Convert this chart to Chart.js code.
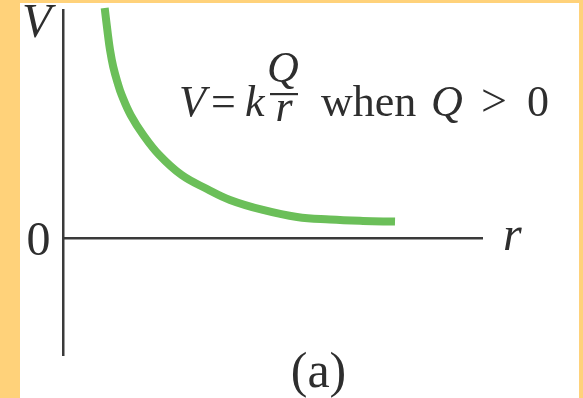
<!DOCTYPE html>
<html>
<head>
<meta charset="utf-8">
<script src="https://cdn.jsdelivr.net/npm/chart.js@4"></script>
<style>
  html, body { margin: 0; padding: 0; }
  body { width: 583px; height: 398px; background: #FFD27A; position: relative; overflow: hidden; }
  #paper { position: absolute; left: 20px; top: 3px; width: 559px; height: 395px; background: #ffffff; }
  #c { position: absolute; left: 0; top: 0; }
</style>
</head>
<body>
<div id="paper"></div>
<canvas id="c" width="583" height="398"></canvas>
<script>
// Values (r and V in arbitrary units)
const rValues = [0.995, 1.067, 1.122, 1.200, 1.305, 1.401, 1.616, 1.916, 2.298, 2.833, 3.437, 3.986, 4.773, 5.585, 6.372, 7.160, 7.924];
const vValues = [10.09, 8.99, 8.25, 7.50, 6.80, 6.27, 5.39, 4.52, 3.64, 2.76, 2.15, 1.67, 1.23, 0.92, 0.81, 0.75, 0.72];
const xRange = [0, 10];
const yRange = [-5.13, 10];
const axisLabels = { x: 'r', y: 'V', origin: '0' };
const caption = '(a)';

const INK = '#2e2e2e';
const SERIF = '"Liberation Serif", "Times New Roman", serif';

const textPlugin = {
  id: 'figureText',
  afterDraw(chart) {
    const ctx = chart.ctx;
    const xs = chart.scales.x, ys = chart.scales.y;
    const y0 = ys.getPixelForValue(0);
    ctx.save();
    ctx.fillStyle = INK;
    ctx.textBaseline = 'alphabetic';

    // V axis label
    ctx.font = 'italic 48px ' + SERIF;
    ctx.textAlign = 'left';
    ctx.fillText(axisLabels.y, 22, 37);
    // r axis label
    ctx.fillText(axisLabels.x, xs.right + 21, y0 + 12);
    // origin 0
    ctx.font = '48px ' + SERIF;
    ctx.textAlign = 'center';
    ctx.fillText(axisLabels.origin, 38.5, y0 + 17);

    // Equation V = k Q/r when Q > 0
    const base = 116;
    ctx.textAlign = 'left';
    ctx.font = 'italic 44px ' + SERIF;
    ctx.fillText('V', 179, base);
    ctx.font = '44px ' + SERIF;
    ctx.fillText('=', 211, base);
    ctx.font = 'italic 44px ' + SERIF;
    ctx.fillText('k', 245, base);
    ctx.textAlign = 'center';
    ctx.fillText('Q', 283, 82);
    ctx.fillText('r', 284, 121);
    ctx.fillRect(270, 93, 28, 2.2);
    ctx.textAlign = 'left';
    ctx.font = '44px ' + SERIF;
    ctx.fillText('when', 321, base);
    ctx.font = 'italic 44px ' + SERIF;
    ctx.fillText('Q', 431, base);
    ctx.font = '46px ' + SERIF;
    ctx.fillText('>', 481, base);
    ctx.font = '44px ' + SERIF;
    ctx.fillText('0', 527, base);

    // caption
    ctx.textAlign = 'center';
    ctx.font = '50px ' + SERIF;
    ctx.fillText(caption, 318.5, 387);
    ctx.restore();
  }
};

new Chart(document.getElementById('c'), {
  type: 'line',
  data: {
    datasets: [{
      data: rValues.map((r, i) => ({ x: r, y: vValues[i] })),
      borderColor: '#6BBF59',
      borderWidth: 8,
      borderCapStyle: 'butt',
      borderJoinStyle: 'round',
      pointRadius: 0,
      tension: 0.4,
      fill: false,
      clip: false
    }]
  },
  options: {
    responsive: false,
    animation: false,
    events: [],
    layout: { padding: { left: 63, right: 101, top: 10, bottom: 43 } },
    plugins: { legend: { display: false }, tooltip: { enabled: false }, title: { display: false } },
    scales: {
      x: {
        type: 'linear', min: xRange[0], max: xRange[1],
        position: { y: 0 },
        grid: { display: false, drawTicks: false },
        ticks: { display: false },
        border: { display: true, color: '#3a3a3a', width: 2.5 }
      },
      y: {
        type: 'linear', min: yRange[0], max: yRange[1],
        position: 'left',
        grid: { display: false, drawTicks: false },
        ticks: { display: false },
        border: { display: true, color: '#3a3a3a', width: 2.5 }
      }
    }
  },
  plugins: [textPlugin]
});
</script>
</body>
</html>
